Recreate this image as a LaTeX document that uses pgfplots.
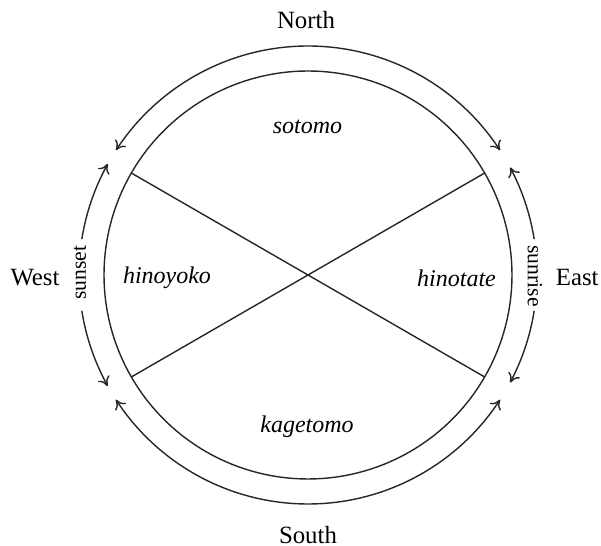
\documentclass[border=0pt]{standalone}
\usepackage{fontspec}
\setmainfont{Liberation Serif}
\usepackage{pgfplots}
\pgfplotsset{compat=1.18}
\usetikzlibrary{arrows.meta}
\begin{document}
\begin{tikzpicture}
\begin{axis}[
  width=300.5pt, height=273pt, scale only axis,
  xmin=0, xmax=601, ymin=0, ymax=546,
  hide axis, clip=false,
  every axis plot/.append style={black!85, line width=0.7pt, no marks},
  arc/.style={domain=#1, samples=90, smooth},
]
% inner circle
\addplot[domain=0:360, samples=181] ({308+204*cos(x)}, {271+204*sin(x)});
% the two diameters at +-30 degrees
\addplot[black!85] coordinates {(131.3,373) (484.7,169)};
\addplot[black!85] coordinates {(131.3,169) (484.7,373)};
% outer arcs with arrows
\addplot[arc=33:147, {To[length=4.5pt,width=6.5pt]}-{To[length=4.5pt,width=6.5pt]}] ({308+229*cos(x)}, {271+229*sin(x)});
\addplot[arc=213:327, {To[length=4.5pt,width=6.5pt]}-{To[length=4.5pt,width=6.5pt]}] ({308+229*cos(x)}, {271+229*sin(x)});
% west (sunset)
\addplot[arc=171:151, -{To[length=4.5pt,width=6.5pt]}] ({308+229*cos(x)}, {271+229*sin(x)});
\addplot[arc=189:209, -{To[length=4.5pt,width=6.5pt]}] ({308+229*cos(x)}, {271+229*sin(x)});
% east (sunrise)
\addplot[arc=9:28, -{To[length=4.5pt,width=6.5pt]}] ({308+229*cos(x)}, {271+229*sin(x)});
\addplot[arc=-9:-28, -{To[length=4.5pt,width=6.5pt]}] ({308+229*cos(x)}, {271+229*sin(x)});
% labels
\node[font=\fontsize{12.4}{14}\selectfont] at (axis cs:306,526) {North};
\node[font=\fontsize{12.4}{14}\selectfont] at (axis cs:308,11) {South};
\node[font=\fontsize{12.4}{14}\selectfont] at (axis cs:35,268) {West};
\node[font=\fontsize{12.4}{14}\selectfont, anchor=east, inner sep=0pt] at (axis cs:599,268) {East};
\node[font=\fontsize{10.8}{13}\selectfont, rotate=90] at (axis cs:80,273) {sunset};
\node[font=\fontsize{10.8}{13}\selectfont, rotate=-90] at (axis cs:535,270) {sunrise};
\node[font=\fontsize{12}{14}\selectfont\itshape] at (axis cs:307.5,419) {sotomo};
\node[font=\fontsize{12}{14}\selectfont\itshape] at (axis cs:307,119) {kagetomo};
\node[font=\fontsize{12}{14}\selectfont\itshape] at (axis cs:167,268) {hinoyoko};
\node[font=\fontsize{12}{14}\selectfont\itshape] at (axis cs:456.5,268) {hinotate};
\end{axis}
\pgfresetboundingbox
\path (0,0) rectangle (300.5pt,273pt);
\end{tikzpicture}
\end{document}
